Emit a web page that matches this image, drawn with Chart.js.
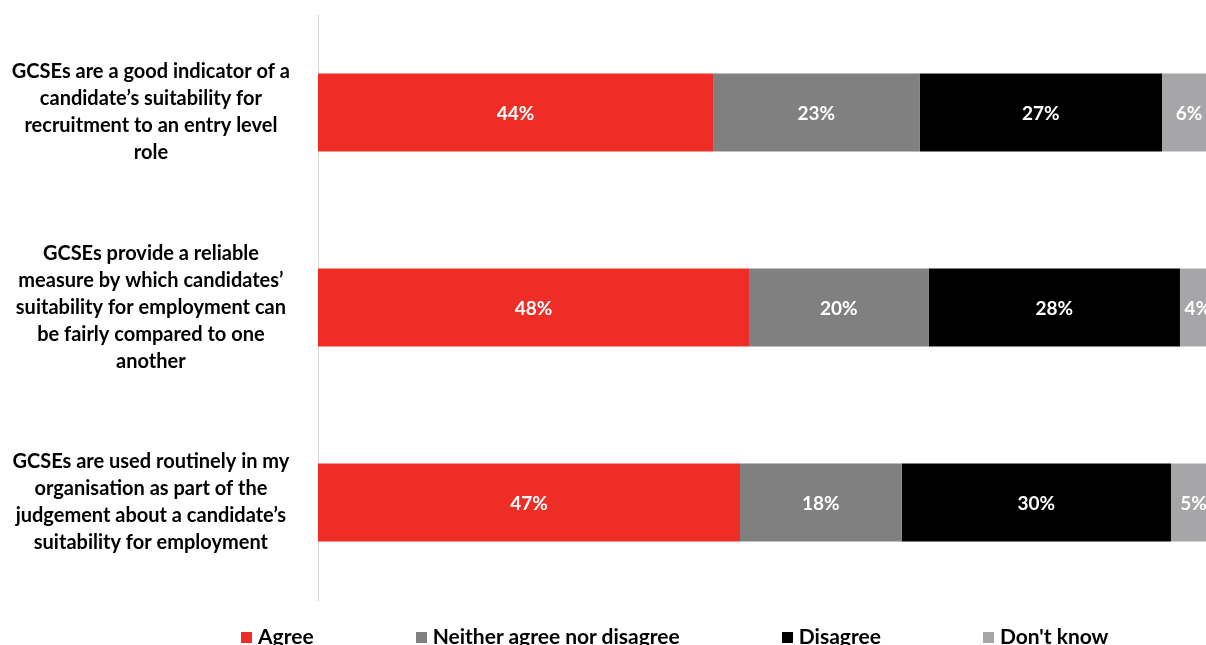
<!DOCTYPE html>
<html>
<head>
<meta charset="utf-8">
<script src="https://cdn.jsdelivr.net/npm/chart.js@4.4.1/dist/chart.umd.min.js"></script>
<style>
  html, body { margin: 0; padding: 0; background: #ffffff; overflow: hidden; }
  #wrap { position: relative; width: 1206px; height: 645px; }
  #legend {
    position: absolute; left: 241px; top: 623px;
    display: flex; gap: 102px; white-space: nowrap;
    font-family: Lato, "Open Sans", sans-serif; font-weight: bold; font-size: 21px; color: #000;
  }
  #legend .item { display: flex; align-items: center; }
  #legend .box { width: 11px; height: 11px; margin-right: 6px; margin-top: 4px; }
</style>
</head>
<body>
<div id="wrap">
  <canvas id="chart" width="1206" height="645"></canvas>
  <div id="legend"></div>
</div>
<script>
// Survey statements (wrapped into lines for the axis)
const statements = [
  ["GCSEs are a good indicator of a", "candidate’s suitability for", "recruitment to an entry level", "role"],
  ["GCSEs provide a reliable", "measure by which candidates’", "suitability for employment can", "be fairly compared to one", "another"],
  ["GCSEs are used routinely in my", "organisation as part of the", "judgement about a candidate’s", "suitability for employment"]
];

// Response shares, in percent, one array per answer
const agree = [44, 48, 47];
const neither = [23, 20, 18];
const disagree = [27, 28, 30];
const dontKnow = [6, 4, 5];

const seriesNames = ["Agree", "Neither agree nor disagree", "Disagree", "Don't know"];
const seriesColors = ["#EE2D27", "#808080", "#000000", "#A6A6A8"];

const FONT = "Lato, 'Open Sans', sans-serif";

// White percentage labels centred in each segment
const segmentLabels = {
  id: 'segmentLabels',
  afterDatasetsDraw(chart) {
    const ctx = chart.ctx;
    ctx.save();
    ctx.fillStyle = '#ffffff';
    ctx.font = "bold 19px " + FONT;
    ctx.textAlign = 'center';
    ctx.textBaseline = 'middle';
    chart.data.datasets.forEach((ds, di) => {
      const meta = chart.getDatasetMeta(di);
      meta.data.forEach((bar, i) => {
        const cx = (bar.x + bar.base) / 2;
        ctx.fillText(ds.data[i] + '%', cx, bar.y + 1);
      });
    });
    ctx.restore();
  }
};

const seriesData = [agree, neither, disagree, dontKnow];

new Chart(document.getElementById('chart'), {
  type: 'bar',
  data: {
    labels: statements,
    datasets: seriesNames.map((name, k) => ({
      label: name,
      data: seriesData[k],
      backgroundColor: seriesColors[k],
      borderWidth: 0,
      categoryPercentage: 0.4,
      barPercentage: 1.0
    }))
  },
  options: {
    indexAxis: 'y',
    responsive: false,
    animation: false,
    devicePixelRatio: 1,
    layout: { padding: { top: 15, bottom: 45, left: 0, right: 0 } },
    plugins: { legend: { display: false }, tooltip: { enabled: false } },
    scales: {
      x: { stacked: true, display: false, min: 0, max: 98.9 },
      y: {
        stacked: true,
        grid: { display: false },
        border: { display: true, color: '#D9D9D9', width: 1 },
        ticks: {
          crossAlign: 'center',
          padding: 20,
          color: '#000000',
          font: { family: FONT, weight: 'bold', size: 20, lineHeight: 1.35 }
        },
        afterFit(scale) {
          scale.width = 318;
          scale.paddingTop = 0;
          scale.paddingBottom = 0;
        }
      }
    }
  },
  plugins: [segmentLabels]
});

// Legend row
const legend = document.getElementById('legend');
seriesNames.forEach((name, k) => {
  const item = document.createElement('div');
  item.className = 'item';
  const box = document.createElement('span');
  box.className = 'box';
  box.style.background = seriesColors[k];
  const txt = document.createElement('span');
  txt.textContent = name;
  item.appendChild(box);
  item.appendChild(txt);
  legend.appendChild(item);
});
</script>
</body>
</html>
